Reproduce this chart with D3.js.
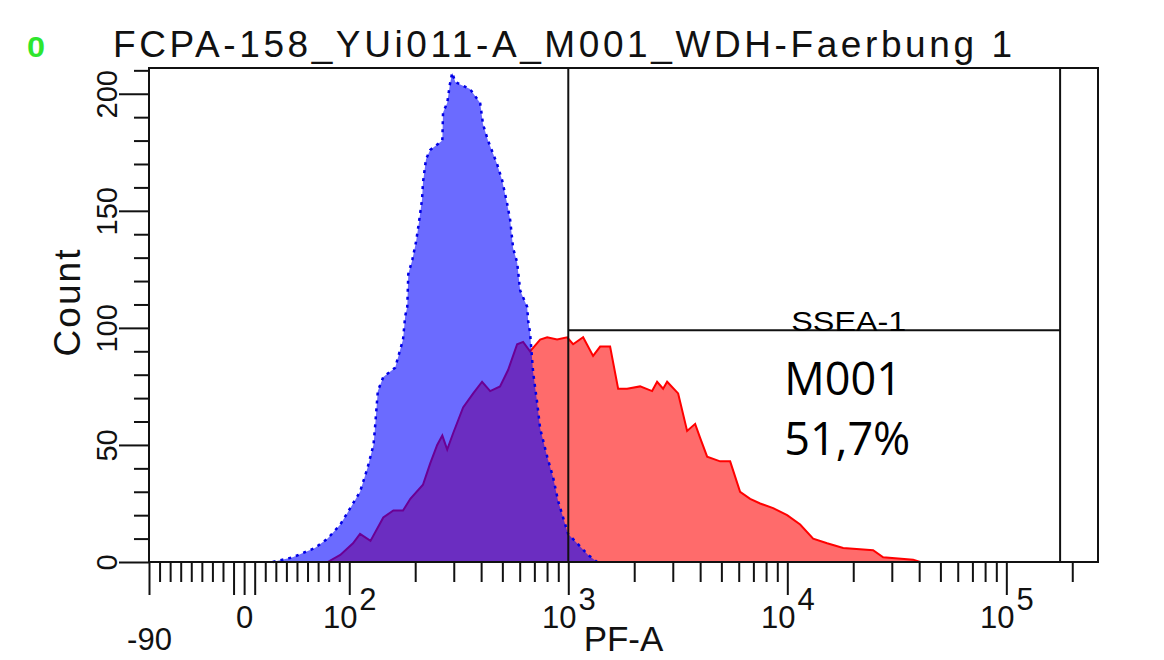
<!DOCTYPE html>
<html>
<head>
<meta charset="utf-8">
<script src="https://cdn.jsdelivr.net/npm/d3@7"></script>
<style>
  body { margin: 0; background: #fff; }
  svg { display: block; }
</style>
</head>
<body>
<script>
// histogram values (PF-A value, count)
const blueFL = [27, 46, 67, 79, 91, 101, 112, 121, 129, 131, 135, 143, 162, 176, 180, 184, 186, 194, 202, 208,
  215, 217, 224, 234, 266, 268, 280, 288, 295, 305, 321, 356, 396, 408, 430, 473, 499, 526, 543, 560,
  584, 603, 649, 656, 669, 691, 721, 744, 801, 853, 899, 947, 998, 1097, 1232, 1354];
const blueCount = [0, 2, 6, 10, 16, 23, 30, 40, 50, 57, 73, 79, 83, 95, 105, 109, 123, 129, 137, 145,
  155, 162, 172, 176, 180, 192, 196, 204, 209, 205, 204, 202, 196, 187, 180, 170, 163, 153, 146, 134,
  128, 116, 109, 103, 98, 81, 68, 57, 45, 36, 26, 19, 12, 8, 3, 0];

const redFL = [79, 91, 104, 112, 125, 143, 159, 176, 190, 217, 234, 252, 266, 280, 298, 331, 368, 404, 440, 488,
  531, 584, 622, 669, 744, 801, 889, 988, 1052, 1169, 1298, 1398, 1552, 1689, 1856, 2128, 2414, 2544, 2710, 2827,
  3174, 3488, 3795, 3999, 4305, 4935, 5483, 6088, 6768, 7516, 8615, 9982, 11447, 13122, 15203, 17989, 24655, 27393, 37549, 40420];
const redCount = [0, 3, 8, 12, 9, 19, 22, 22, 27, 33, 42, 50, 54, 48, 55, 66, 72, 77, 73, 75,
  82, 93, 94, 90, 95, 96, 95, 96, 93, 96, 88, 92, 92, 74, 74, 75, 73, 77, 74, 77,
  72, 56, 59, 53, 45, 43, 43, 30, 27, 25, 23, 20, 16, 10, 8, 6, 5, 2, 1, 0];

// marker M001 (SSEA-1)
const gateRange = [1000, 176000];
const gateLevel = 99;

// axes
const xDomain = [-90, 262144];
const xMajorTicks = [-90, 0, 100, 1000, 10000, 100000];
const xMajorLabels = [["-90", ""], ["0", ""], ["10", "2"], ["10", "3"], ["10", "4"], ["10", "5"]];
const xLongTicks = [-10, 10];
const xMinorTicks = [-80, -70, -60, -50, -40, -30, -20, 20, 30, 40, 50, 60, 70, 80, 90,
  200, 300, 400, 500, 600, 700, 800, 900, 2000, 3000, 4000, 5000, 6000, 7000, 8000, 9000,
  20000, 30000, 40000, 50000, 60000, 70000, 80000, 90000, 200000];
const yMajorTicks = [0, 50, 100, 150, 200];
const yMinorTicks = d3.range(0, 211, 10).filter(v => v % 50 !== 0);

const title = "FCPA-158_YUi011-A_M001_WDH-Faerbung 1";
const narrow = "'Liberation Sans Narrow', 'Liberation Sans', Arial, sans-serif";

const width = 1164, height = 660;
const frame = { left: 149, right: 1098, top: 68, bottom: 562 };

const svg = d3.select("body").append("svg")
  .attr("width", width)
  .attr("height", height);

// lin/log display transform (linear below 90, log above)
const V0 = 90;
const linlog = v => v >= V0 ? Math.log10(v) : Math.log10(V0) + (v - V0) / (V0 * Math.LN10);

const xT = d3.scaleLinear()
  .domain(xDomain.map(linlog))
  .range([frame.left, frame.right]);
const x = v => xT(linlog(v));

const y = d3.scaleLinear()
  .domain([0, 211])
  .range([frame.bottom, frame.top]);

const blue = blueFL.map((v, i) => [v, blueCount[i]]);
const red = redFL.map((v, i) => [v, redCount[i]]);

const area = d3.area()
  .x(d => x(d[0]))
  .y0(y(0))
  .y1(d => y(d[1]));
const line = d3.line()
  .x(d => x(d[0]))
  .y(d => y(d[1]));

// red first, blue drawn on top with transparency
svg.append("path").datum(red)
  .attr("d", area)
  .attr("fill", "#ff0000")
  .attr("fill-opacity", 0.58);
svg.append("path").datum(red)
  .attr("d", line)
  .attr("fill", "none")
  .attr("stroke", "#ff0000")
  .attr("stroke-width", 2);

svg.append("path").datum(blue)
  .attr("d", area)
  .attr("fill", "#0000ff")
  .attr("fill-opacity", 0.58);
svg.append("path").datum(blue)
  .attr("d", line)
  .attr("fill", "none")
  .attr("stroke", "#0000e6")
  .attr("stroke-width", 2.5)
  .attr("stroke-dasharray", "3 5");

// marker
const gate = svg.append("g")
  .attr("stroke", "#111")
  .attr("stroke-width", 2)
  .attr("fill", "none");
gate.append("line")
  .attr("x1", x(gateRange[0])).attr("x2", x(gateRange[0]))
  .attr("y1", y.range()[1]).attr("y2", y(0));
gate.append("line")
  .attr("x1", x(gateRange[1])).attr("x2", x(gateRange[1]))
  .attr("y1", y.range()[1]).attr("y2", y(0));
gate.append("line")
  .attr("x1", x(gateRange[0])).attr("x2", x(gateRange[1]))
  .attr("y1", y(gateLevel)).attr("y2", y(gateLevel));

svg.append("text")
  .attr("x", x(gateRange[0]) + 223)
  .attr("y", y(gateLevel) + 1)
  .attr("font-family", narrow)
  .attr("font-size", 28)
  .attr("textLength", 115)
  .attr("lengthAdjust", "spacingAndGlyphs")
  .text("SSEA-1");

svg.append("text")
  .attr("x", x(gateRange[0]) + 216)
  .attr("y", 395)
  .attr("font-family", "'Open Sans', 'Noto Sans', sans-serif")
  .attr("font-size", 45)
  .text("M001");
svg.append("text")
  .attr("x", x(gateRange[0]) + 216)
  .attr("y", 455)
  .attr("font-family", "'Open Sans', 'Noto Sans', sans-serif")
  .attr("font-size", 45)
  .text("51,7%");

// frame
svg.append("rect")
  .attr("x", frame.left)
  .attr("y", frame.top)
  .attr("width", frame.right - frame.left)
  .attr("height", frame.bottom - frame.top)
  .attr("fill", "none")
  .attr("stroke", "#111")
  .attr("stroke-width", 2);

// x axis
function xAxisLayer(values, size) {
  const g = svg.append("g")
    .attr("transform", `translate(0,${y(0)})`)
    .call(d3.axisBottom(xT).tickValues(values.map(linlog)).tickSize(size).tickFormat(() => ""));
  g.select(".domain").remove();
  g.selectAll(".tick line").attr("stroke", "#111").attr("stroke-width", 2);
  return g;
}
xAxisLayer(xMinorTicks, 20);
xAxisLayer(xLongTicks, 33);
const gxMajor = xAxisLayer(xMajorTicks, 33);

gxMajor.selectAll(".tick text")
  .attr("font-family", narrow)
  .attr("font-size", 31)
  .attr("fill", "#111")
  .attr("dy", null)
  .attr("y", (d, i) => xMajorTicks[i] < 0 ? 88 : 66)
  .each(function (d, i) {
    const [base, exp] = xMajorLabels[i];
    const t = d3.select(this);
    t.append("tspan").text(base);
    if (exp) t.append("tspan").attr("dx", 2).attr("dy", -18).text(exp);
  });

// y axis
function yAxisLayer(values, size) {
  const g = svg.append("g")
    .attr("transform", `translate(${frame.left},0)`)
    .call(d3.axisLeft(y).tickValues(values).tickSize(size).tickFormat(d3.format("d")));
  g.select(".domain").remove();
  g.selectAll(".tick line").attr("stroke", "#111").attr("stroke-width", 2);
  return g;
}
yAxisLayer(yMinorTicks, 15).selectAll(".tick text").remove();
yAxisLayer(yMajorTicks, 30).selectAll(".tick text")
  .attr("font-family", narrow)
  .attr("font-size", 29)
  .attr("fill", "#111")
  .attr("text-anchor", "middle")
  .attr("dy", null)
  .attr("x", 0)
  .attr("y", -32)
  .attr("transform", "rotate(-90)");

// titles
svg.append("text")
  .attr("x", 27)
  .attr("y", 57)
  .attr("font-family", "'Liberation Sans', Arial, sans-serif")
  .attr("font-weight", "bold")
  .attr("font-size", 30)
  .attr("fill", "#2ee62e")
  .attr("textLength", 18)
  .attr("lengthAdjust", "spacingAndGlyphs")
  .text("0");

svg.append("text")
  .attr("x", 113)
  .attr("y", 57)
  .attr("font-family", narrow)
  .attr("font-size", 37)
  .attr("fill", "#111")
  .attr("textLength", 899)
  .text(title);

svg.append("text")
  .attr("x", (frame.left + frame.right) / 2)
  .attr("y", 651)
  .attr("text-anchor", "middle")
  .attr("font-family", narrow)
  .attr("font-size", 35)
  .attr("fill", "#111")
  .text("PF-A");

svg.append("text")
  .attr("transform", "translate(80,303) rotate(-90)")
  .attr("text-anchor", "middle")
  .attr("font-family", narrow)
  .attr("font-size", 37)
  .attr("fill", "#111")
  .attr("textLength", 107)
  .text("Count");
</script>
</body>
</html>
